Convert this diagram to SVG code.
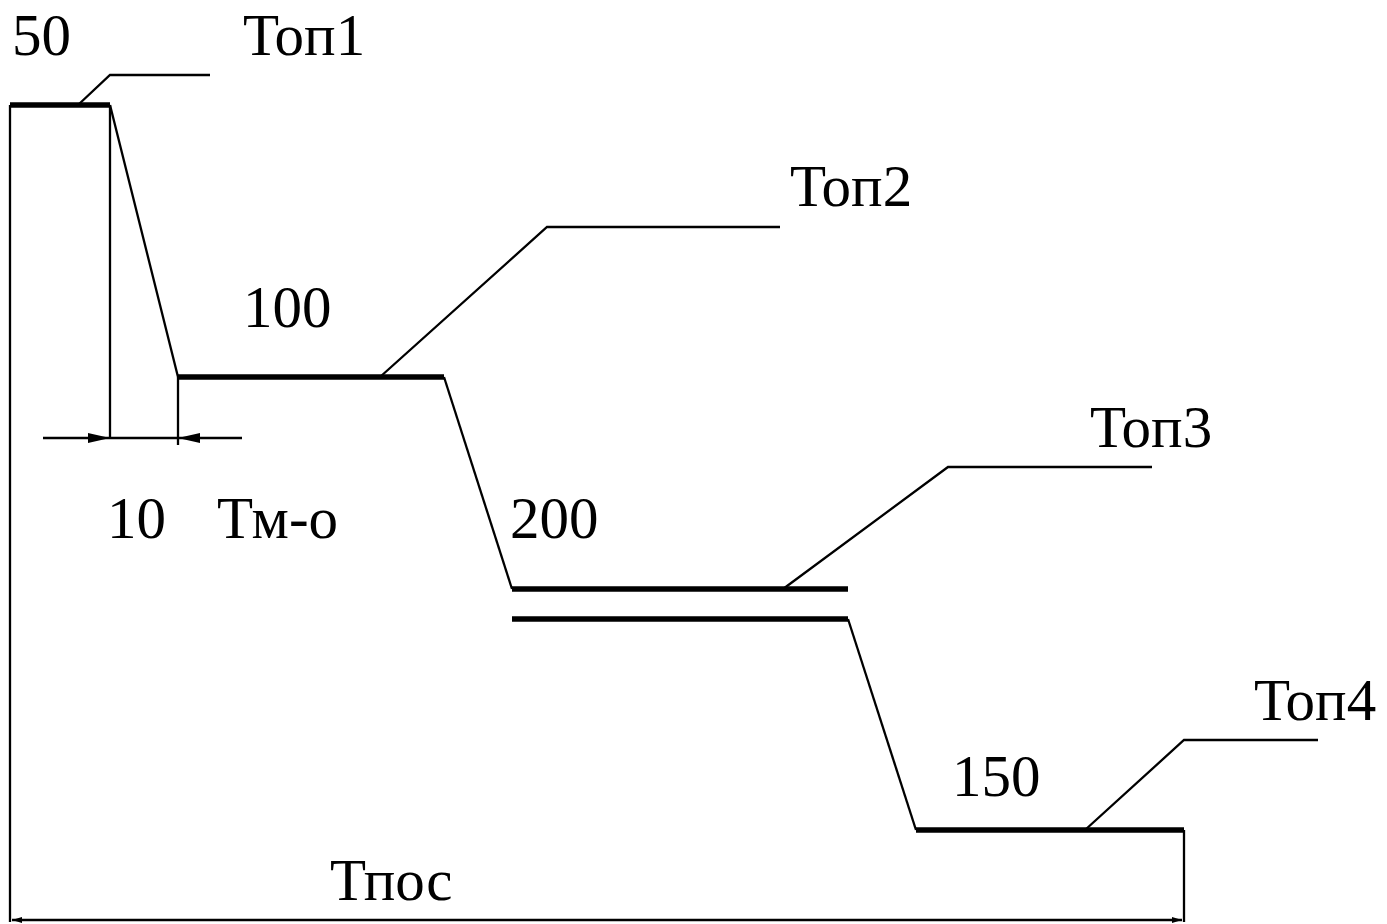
<svg xmlns="http://www.w3.org/2000/svg" width="1387" height="924" viewBox="0 0 1387 924">
<style>
.t{font-family:"Liberation Serif","Times New Roman",serif;font-size:59px;fill:#000}
.thin{stroke:#000;stroke-width:2.3;fill:none}
.bold{stroke:#000;stroke-width:5.5;fill:none}
</style>
<defs>
<marker id="ah" viewBox="0 0 10 10" refX="10" refY="5" markerWidth="10" markerHeight="10" markerUnits="userSpaceOnUse" orient="auto-start-reverse">
<path d="M0,2 L10,5 L0,8 Z" fill="#000"/>
</marker>
<marker id="ah2" viewBox="0 0 20 10" refX="20" refY="5" markerWidth="22" markerHeight="11" markerUnits="userSpaceOnUse" orient="auto">
<path d="M0,0.5 L20,5 L0,9.5 Z" fill="#000"/>
</marker>
</defs>
<g id="connectors">
<line class="thin" x1="10" y1="105" x2="10" y2="922"/>
<line class="thin" x1="110" y1="105" x2="178" y2="377"/>
<line class="thin" x1="110" y1="105" x2="110" y2="438"/>
<line class="thin" x1="178" y1="377" x2="178" y2="445"/>
<line class="thin" x1="43" y1="438" x2="110" y2="438" marker-end="url(#ah2)"/>
<line class="thin" x1="110" y1="438" x2="178" y2="438"/>
<line class="thin" x1="242" y1="438" x2="178" y2="438" marker-end="url(#ah2)"/>
<line class="thin" x1="444" y1="377" x2="512" y2="589"/>
<line class="thin" x1="848" y1="619" x2="916" y2="830"/>
<line class="thin" x1="1184" y1="830" x2="1184" y2="922"/>
<line class="thin" x1="12" y1="920" x2="1182" y2="920" marker-start="url(#ah)" marker-end="url(#ah)"/>
<polyline class="thin" points="78,105 110,75 210,75"/>
<polyline class="thin" points="380,377 547,227 780,227"/>
<polyline class="thin" points="783,589 948,467 1152,467"/>
<polyline class="thin" points="1085,830 1184,740 1318,740"/>
</g>
<g id="op1"><line class="bold" x1="10" y1="105" x2="110" y2="105"/><text class="t" x="12" y="55">50</text><text class="t" x="243" y="55">Топ1</text></g>
<g id="op2"><line class="bold" x1="178" y1="377" x2="444" y2="377"/><text class="t" x="243" y="327">100</text><text class="t" x="790" y="206">Топ2</text></g>
<g id="tmo"><text class="t" x="107" y="538">10</text><text class="t" x="217" y="538">Тм-о</text></g>
<g id="op3"><line class="bold" x1="512" y1="589" x2="848" y2="589"/><line class="bold" x1="512" y1="619" x2="848" y2="619"/><text class="t" x="510" y="538">200</text><text class="t" x="1090" y="447">Топ3</text></g>
<g id="op4"><line class="bold" x1="916" y1="830" x2="1184" y2="830"/><text class="t" x="952" y="796">150</text><text class="t" x="1254" y="720">Топ4</text></g>
<g id="tpos"><text class="t" x="330" y="900">Тпос</text></g>
</svg>
